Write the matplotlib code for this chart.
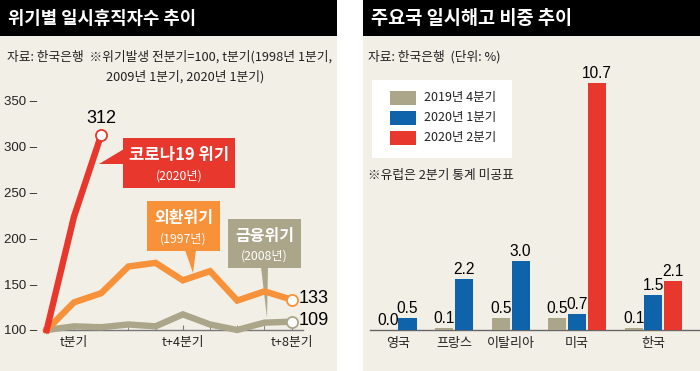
import matplotlib
matplotlib.use('Agg')
import matplotlib.pyplot as plt
from matplotlib.patches import Rectangle, Polygon

plt.rcParams['font.family'] = ['Noto Sans CJK KR', 'DejaVu Sans']
NUM_FONT = ['Liberation Sans Narrow', 'Liberation Sans', 'DejaVu Sans']

# --- left chart: 위기별 일시휴직자수 (위기발생 전분기=100) ---
quarters = list(range(-1, 9))          # t-1 ... t+8
corona = [100, 223, 312]
fx_crisis = [100, 130, 140, 169, 173, 154, 164, 132, 142, 133]
fin_crisis = [100, 104, 103, 106, 104, 117, 106, 100, 108, 109]
y_ticks = [100, 150, 200, 250, 300, 350]
x_major = [0, 4, 8]
x_labels = ['t분기', 't+4분기', 't+8분기']

# --- right chart: 주요국 일시해고 비중 (%) ---
countries = ['영국', '프랑스', '이탈리아', '미국', '한국']
q4_2019 = [0.0, 0.1, 0.5, 0.5, 0.1]
q1_2020 = [0.5, 2.2, 3.0, 0.7, 1.5]
q2_2020 = [None, None, None, 10.7, 2.1]
series_names = ['2019년 4분기', '2020년 1분기', '2020년 2분기']

BG = '#f2efe6'
RED = '#e8372c'
ORANGE = '#f7923a'
OLIVE = '#aba58a'
BLUE = '#0e63ab'

W, H = 700, 371
fig = plt.figure(figsize=(7, 3.71), dpi=100)
fig.patch.set_facecolor('white')
bg = fig.add_axes([0, 0, 1, 1])
bg.set_xlim(0, W)
bg.set_ylim(H, 0)
bg.axis('off')


def px_axes(x0, y0, x1, y1):
    """pixel box (origin top-left) -> figure axes"""
    a = fig.add_axes([x0 / W, 1 - y1 / H, (x1 - x0) / W, (y1 - y0) / H])
    a.patch.set_alpha(0)
    return a


# panels and title bars
for x0, x1 in [(0, 337), (363, 700)]:
    bg.add_patch(Rectangle((x0, 36), x1 - x0, H - 36, color=BG, lw=0))
    bg.add_patch(Rectangle((x0, 0), x1 - x0, 36, color='black', lw=0))
bg.text(8, 19, '위기별 일시휴직자수 추이', color='white', fontsize=12.8,
        fontweight='bold', va='center')
bg.text(371, 19, '주요국 일시해고 비중 추이', color='white', fontsize=13.4,
        fontweight='bold', va='center')

bg.text(7, 57, '자료: 한국은행  ※위기발생 전분기=100, t분기(1998년 1분기,',
        fontsize=9.2, va='center', color='#222')
bg.text(106, 77, '2009년 1분기, 2020년 1분기)', fontsize=9.2, va='center', color='#222')

# ---------------- left line chart ----------------
ax = px_axes(43, 90, 303, 330)
ax.set_xlim(-1.136, 8.415)
ax.set_ylim(100, 360.9)
for s in ['top', 'right', 'left']:
    ax.spines[s].set_visible(False)
ax.spines['bottom'].set_color('#777')
ax.spines['bottom'].set_linewidth(1)
ax.set_yticks(y_ticks, labels=[f'{v} –' for v in y_ticks])
ax.tick_params(axis='y', length=0, pad=4, labelcolor='#222')
for lab in ax.get_yticklabels():
    lab.set_family(NUM_FONT)
    lab.set_fontsize(9.5)
ax.set_xticks(x_major, labels=x_labels)
ax.set_xticks(range(0, 9), minor=True)
ax.tick_params(axis='x', which='both', direction='in', length=3.5, color='#777',
               pad=4, labelsize=9.2, labelcolor='#222')

lw = 4.6
ax.plot(quarters, fin_crisis, color=OLIVE, lw=lw, solid_joinstyle='miter', clip_on=False, zorder=3)
ax.plot(quarters, fx_crisis, color=ORANGE, lw=lw, solid_joinstyle='miter', clip_on=False, zorder=4)
ax.plot(quarters[:len(corona)], corona, color=RED, lw=lw, solid_joinstyle='miter', clip_on=False, zorder=5)
for xs, ys, c in [(quarters, fin_crisis, OLIVE), (quarters, fx_crisis, ORANGE),
                  (quarters[:len(corona)], corona, RED)]:
    ax.plot(xs[-1], ys[-1], 'o', ms=8, mfc='white', mec=c, mew=1.3, clip_on=False, zorder=6)

ax.annotate(str(corona[-1]), (quarters[len(corona) - 1], corona[-1]), xytext=(0, 6),
            textcoords='offset points', ha='center', va='bottom', fontsize=13,
            family=NUM_FONT, annotation_clip=False)
for ys in [fx_crisis, fin_crisis]:
    ax.annotate(str(ys[-1]), (quarters[-1], ys[-1]), xytext=(5, 1),
                textcoords='offset points', ha='left', va='center', fontsize=13,
                family=NUM_FONT, annotation_clip=False)

# callout boxes
callouts = [
    (RED, (123, 138, 235, 188), [(124, 149), (124, 164), (99, 164)], '코로나19 위기', '(2020년)', 12),
    (ORANGE, (147, 201, 220, 251), [(185, 250), (196, 250), (193, 273)], '외환위기', '(1997년)', 11.5),
    (OLIVE, (228, 219, 301, 268), [(261, 267), (268, 267), (267, 318)], '금융위기', '(2008년)', 11.5),
]
for c, (x0, y0, x1, y1), tri, t1, t2, fs in callouts:
    bg.add_patch(Rectangle((x0, y0), x1 - x0, y1 - y0, color=c, lw=0, zorder=7))
    bg.add_patch(Polygon(tri, closed=True, color=c, lw=0, zorder=7))
    cx = (x0 + x1) / 2
    bg.text(cx, y0 + (y1 - y0) * 0.34, t1, color='white', fontsize=fs,
            fontweight='bold', ha='center', va='center', zorder=8)
    bg.text(cx, y0 + (y1 - y0) * 0.76, t2, color='white', fontsize=8.8,
            ha='center', va='center', zorder=8)

# ---------------- right bar chart ----------------
bg.text(368, 57, '자료: 한국은행  (단위: %)', fontsize=9.2, va='center', color='#222')

bx = px_axes(370, 45, 700, 330)
gap = 0.87
starts = []
x = 0.0
for v in q2_2020:
    starts.append(x)
    x += (3 if v is not None else 2) + gap
bx.set_xlim(-0.906, 15.85)
bx.set_ylim(0, 285 / 23.1)
for s in ['top', 'right', 'left']:
    bx.spines[s].set_visible(False)
bx.spines['bottom'].set_color('#666')
bx.spines['bottom'].set_linewidth(1)
bx.set_yticks([])

bw = 0.92
centers = []
for i, s0 in enumerate(starts):
    vals = [(q4_2019[i], OLIVE), (q1_2020[i], BLUE)]
    if q2_2020[i] is not None:
        vals.append((q2_2020[i], RED))
    for k, (v, c) in enumerate(vals):
        bx.bar(s0 + k, v, width=bw, color=c, zorder=3)
        bx.annotate(f'{v:.1f}', (s0 + k, v), xytext=(0, 1.5), textcoords='offset points',
                    ha='center', va='bottom', fontsize=11.2, family=NUM_FONT,
                    annotation_clip=False)
    centers.append(s0 + (len(vals) - 1) / 2)
bx.set_xticks(centers, labels=countries)
bx.tick_params(axis='x', length=0, pad=5, labelsize=9.4, labelcolor='#222')

# legend
bg.add_patch(Rectangle((372, 80), 140, 78, color='white', lw=0))
for j, (name, c) in enumerate(zip(series_names, [OLIVE, BLUE, RED])):
    yc = 98 + j * 20
    bg.add_patch(Rectangle((390, yc - 7), 26, 14, color=c, lw=0))
    bg.text(424, yc, name, fontsize=9, va='center', color='#222')
bg.text(368, 175, '※유럽은 2분기 통계 미공표', fontsize=9.2, va='center', color='#222')

fig.savefig('out.png', dpi=100, facecolor='white')
